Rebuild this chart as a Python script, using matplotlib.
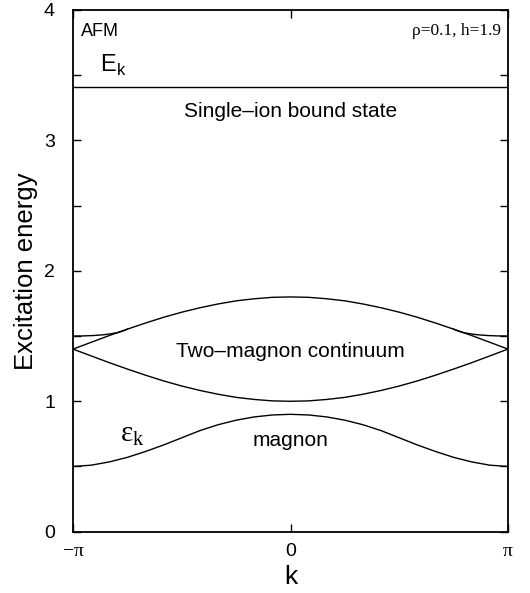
import numpy as np
import matplotlib
matplotlib.use("Agg")
import matplotlib.pyplot as plt

PI = np.pi
# k grid in units of pi/12
k = np.arange(-12, 13) * PI / 12

magnon = [0.500, 0.510, 0.535, 0.570, 0.615, 0.665, 0.720, 0.775, 0.820, 0.855, 0.880, 0.895, 0.900,
          0.895, 0.880, 0.855, 0.820, 0.775, 0.720, 0.665, 0.615, 0.570, 0.535, 0.510, 0.500]

cont_upper = [1.400, 1.452, 1.504, 1.553, 1.600, 1.644, 1.683, 1.717, 1.746, 1.770, 1.786, 1.797, 1.800,
              1.797, 1.786, 1.770, 1.746, 1.717, 1.683, 1.644, 1.600, 1.553, 1.504, 1.452, 1.400]

cont_lower = [1.400, 1.348, 1.296, 1.247, 1.200, 1.156, 1.117, 1.083, 1.054, 1.030, 1.014, 1.003, 1.000,
              1.003, 1.014, 1.030, 1.054, 1.083, 1.117, 1.156, 1.200, 1.247, 1.296, 1.348, 1.400]

# edge branch near the zone boundary (left side); mirrored on the right
k_edge = [-PI, -3.0, -2.85, -2.7, -2.6, -2.5, -2.42, -2.356]
edge_branch = [1.500, 1.501, 1.504, 1.510, 1.517, 1.526, 1.539, 1.553]

bound_k = [-PI, PI]
bound_E = [3.41, 3.41]

xtick_labels = ["\u2212\u03c0", "0", "\u03c0"]

plt.rcParams['font.family'] = ['Liberation Sans', 'DejaVu Sans']

fig = plt.figure(figsize=(5.30, 5.93), dpi=100)
ax = fig.add_axes([73/530, 1-531.7/593, (508-73)/530, (531.7-10)/593])

lw = 1.0
ax.plot(k, magnon, color='black', lw=lw)
ax.plot(k, cont_upper, color='black', lw=lw)
ax.plot(k, cont_lower, color='black', lw=lw)
ax.plot(k_edge, edge_branch, color='black', lw=lw)
ax.plot([-x for x in k_edge], edge_branch, color='black', lw=lw)
ax.plot(bound_k, bound_E, color='black', lw=lw)

ax.set_xlim(-PI, PI)
ax.set_ylim(0, 4)

ax.set_xticks([-PI, 0, PI])
ax.set_xticklabels(xtick_labels)
for lab, fam, fs in zip(ax.get_xticklabels(), ['Liberation Serif', 'Liberation Sans', 'Liberation Serif'],
                        [16, 14, 16]):
    lab.set_family(fam)
    lab.set_fontsize(fs)
ax.set_yticks([0, 0.5, 1, 1.5, 2, 2.5, 3, 3.5, 4])
ax.set_yticklabels(["0", "", "1", "", "2", "", "3", "", "4"])
ax.tick_params(direction='in', top=True, right=True, length=6, width=1.0, labelsize=14)
ax.tick_params(axis='y', pad=13)
ax.tick_params(axis='x', pad=8)
for s in ax.spines.values():
    s.set_linewidth(1.3)

ax.set_ylabel("Excitation energy", fontsize=18.5, labelpad=4)
ax.set_xlabel("k", fontsize=19, labelpad=4)

ax.text(0.018, 0.975, "AFM", transform=ax.transAxes, fontsize=13, va='top', ha='left')
ax.text(0.062, 0.893, "E$_\\mathregular{k}$", transform=ax.transAxes, fontsize=17, va='center', ha='left')
ax.text(0.985, 0.975, "\u03c1=0.1, h=1.9", transform=ax.transAxes, fontsize=12.5, va='top', ha='right',
        family='Liberation Serif')
ax.text(0.0, 3.22, "Single\u2013ion bound state", fontsize=15, ha='center', va='center')
ax.text(0.0, 1.38, "Two\u2013magnon continuum", fontsize=15, ha='center', va='center')
ax.text(0.0, 0.70, "magnon", fontsize=15, ha='center', va='center')
ax.text(-2.29, 0.74, "\u03b5$_\\mathregular{k}$", fontsize=21, ha='center', va='center', family='Liberation Serif')

fig.savefig("out.png", dpi=100)
